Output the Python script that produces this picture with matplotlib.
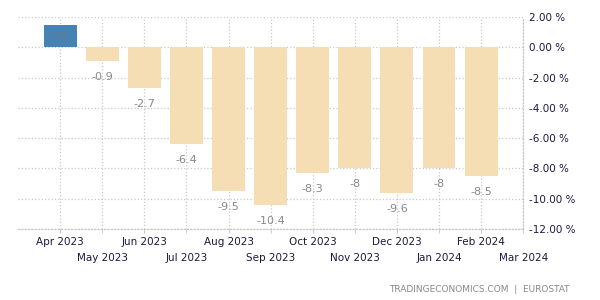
import matplotlib
matplotlib.use("Agg")
import matplotlib.pyplot as plt
import numpy as np

months = ["Apr 2023", "May 2023", "Jun 2023", "Jul 2023", "Aug 2023", "Sep 2023",
          "Oct 2023", "Nov 2023", "Dec 2023", "Jan 2024", "Feb 2024", "Mar 2024"]
values = [1.5, -0.9, -2.7, -6.4, -9.5, -10.4, -8.3, -8, -9.6, -8, -8.5]
value_labels = ["1.5", "-0.9", "-2.7", "-6.4", "-9.5", "-10.4", "-8.3", "-8", "-9.6", "-8", "-8.5"]
yticks = [2, 0, -2, -4, -6, -8, -10, -12]

BEIGE = "#f5deb3"
BLUE = "#4682b4"
GRID = "#c8c8c8"
TICK = "#1a1a40"

fig = plt.figure(figsize=(6, 3), dpi=100)
ax = fig.add_axes([0.03, 0.237, 0.842, 0.706])

x = np.arange(len(values))
colors = [BLUE if v > 0 else BEIGE for v in values]
ax.bar(x, values, width=0.78, color=colors, zorder=2)

for xi, v, lab in zip(x, values, value_labels):
    if v > 0:
        ax.text(xi, v / 2, lab, ha="center", va="center", fontsize=8, color="#777777", zorder=3)
    else:
        ax.annotate(lab, (xi, v), xytext=(0, -11.5), textcoords="offset points",
                    ha="center", va="center", fontsize=8, color="#888888")

ax.set_xlim(-1, 11)
ax.set_ylim(-12, 2)

# staggered month labels: even months on the first row, odd ones on the second
ax.set_xticks(np.arange(0, len(months), 2))
ax.set_xticklabels(months[0::2], fontsize=7.5, color=TICK)
ax.set_xticks(np.arange(1, len(months), 2), minor=True)
ax.set_xticklabels(months[1::2], minor=True, fontsize=7.5, color=TICK)
ax.tick_params(axis="x", which="major", length=3, color=GRID, pad=3)
ax.tick_params(axis="x", which="minor", length=3, color=GRID, pad=14.5)

ax.set_yticks(yticks)
ax.set_yticklabels([f"{t:.2f} %" for t in yticks], fontsize=7.5, color=TICK)
ax.yaxis.tick_right()
ax.tick_params(axis="y", length=0, pad=4)

ax.grid(True, which="both", axis="x", color=GRID, linestyle=":", linewidth=0.9, zorder=0)
ax.grid(True, axis="y", color=GRID, linestyle=":", linewidth=0.9, zorder=0)
ax.set_axisbelow(True)
for side in ["top", "left"]:
    ax.spines[side].set_visible(False)
for side in ["bottom", "right"]:
    ax.spines[side].set_color(GRID)
    ax.spines[side].set_linestyle(":")
    ax.spines[side].set_linewidth(0.9)

fig.text(0.95, 0.035, "TRADINGECONOMICS.COM  |  EUROSTAT", ha="right", va="center",
         fontsize=6.5, color="#888888")

fig.savefig("out.png", dpi=100)
